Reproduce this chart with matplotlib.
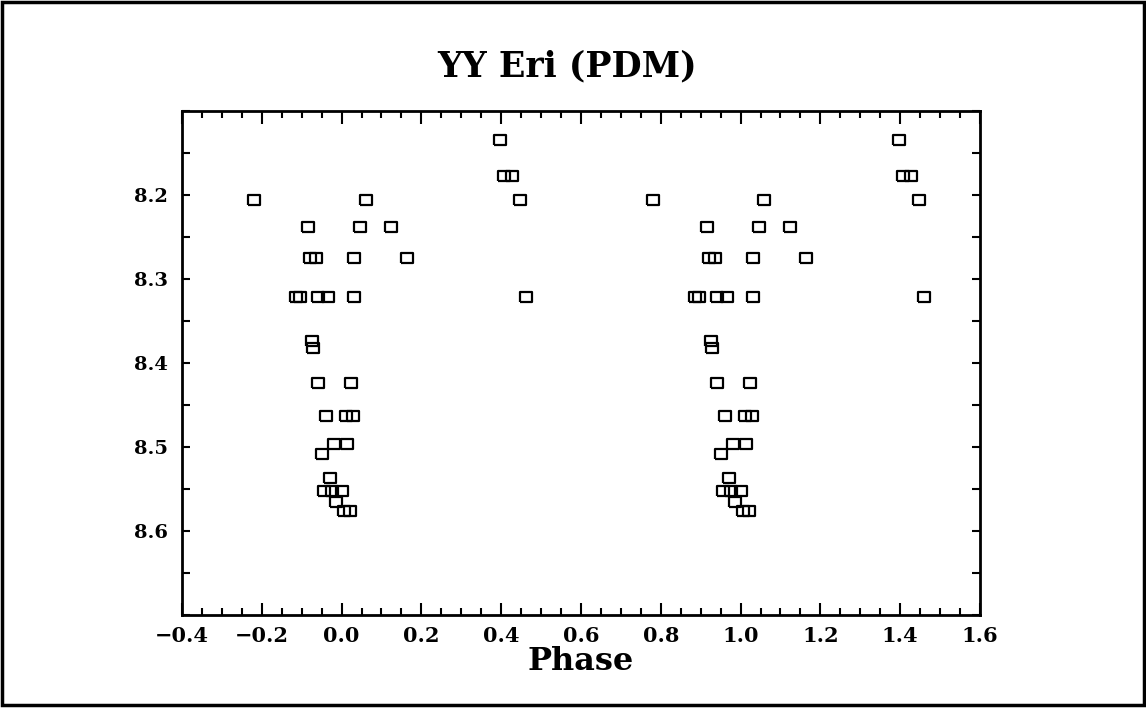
import matplotlib
matplotlib.use("Agg")
import matplotlib.pyplot as plt
from matplotlib.ticker import MultipleLocator
from matplotlib.patches import Rectangle
import numpy as np

# YY Eri, phase-folded light curve (PDM period)
phase = [-0.22, 0.06,
         -0.085, 0.045, 0.125,
         -0.080, -0.065, 0.030, 0.163,
         -0.115, -0.105, -0.058, -0.033, 0.030,
         -0.075, -0.072,
         -0.058, 0.023,
         -0.038, 0.010, 0.028,
         -0.048, -0.018, 0.013,
         -0.028,
         -0.043, -0.023, 0.000,
         -0.015,
         0.005, 0.020,
         0.396, 0.408, 0.428, 0.448, 0.461]
mag = [8.206, 8.206,
       8.238, 8.238, 8.238,
       8.275, 8.275, 8.275, 8.275,
       8.321, 8.321, 8.321, 8.321, 8.321,
       8.374, 8.382,
       8.424, 8.424,
       8.463, 8.463, 8.463,
       8.508, 8.497, 8.497,
       8.537,
       8.552, 8.552, 8.552,
       8.565,
       8.576, 8.576,
       8.135, 8.178, 8.178, 8.206, 8.321]

xticks = [-0.4, -0.2, 0.0, 0.2, 0.4, 0.6, 0.8, 1.0, 1.2, 1.4, 1.6]
yticks = [8.2, 8.3, 8.4, 8.5, 8.6]

serif = ["DejaVu Serif"]

# each point is shown twice, at phase and phase + 1
x = np.concatenate([phase, np.array(phase) + 1.0])
y = np.concatenate([mag, mag])

fig = plt.figure(figsize=(11.46, 7.14), dpi=100)
ax = fig.add_axes([0.1588, 0.1387, 0.6963, 0.7059])

box = [(-1.2, -1), (1.2, -1), (1.2, 1), (-1.2, 1), (-1.2, -1)]
ax.plot(x, y, linestyle="none", marker=box, markersize=8.4,
        markerfacecolor="none", markeredgecolor="black", markeredgewidth=1.6)

ax.set_xlim(-0.4, 1.6)
ax.set_ylim(8.7, 8.1)
ax.set_xticks(xticks)
ax.set_yticks(yticks)
ax.set_xticklabels(["%.1f" % t if t >= 0 else "\u2212%.1f" % -t for t in xticks],
                   family=serif, fontweight="bold", fontsize=15)
ax.set_yticklabels(["%.1f" % t for t in yticks],
                   family=serif, fontweight="bold", fontsize=14)
ax.xaxis.set_minor_locator(MultipleLocator(0.05))
ax.yaxis.set_minor_locator(MultipleLocator(0.05))

ax.tick_params(which="both", direction="in", top=True, right=True, width=1.5, color="black")
ax.tick_params(axis="x", which="major", length=9, pad=8)
ax.tick_params(axis="x", which="minor", length=5)
ax.tick_params(axis="y", which="major", length=6, pad=10)
ax.tick_params(axis="y", which="minor", length=6)
for s in ax.spines.values():
    s.set_linewidth(2)

ax.set_xlabel("Phase", family=serif, fontweight="bold", fontsize=23, labelpad=0)
fig.text(0.495, 0.907, "YY Eri (PDM)", family=serif, fontweight="bold",
         fontsize=25, ha="center", va="center")

# frame around the scanned page
fig.patches.append(Rectangle((0.002, 0.012), 0.996, 0.985, transform=fig.transFigure,
                             fill=False, edgecolor="black", linewidth=2.5))

fig.savefig("out.png", dpi=100, facecolor="white")
